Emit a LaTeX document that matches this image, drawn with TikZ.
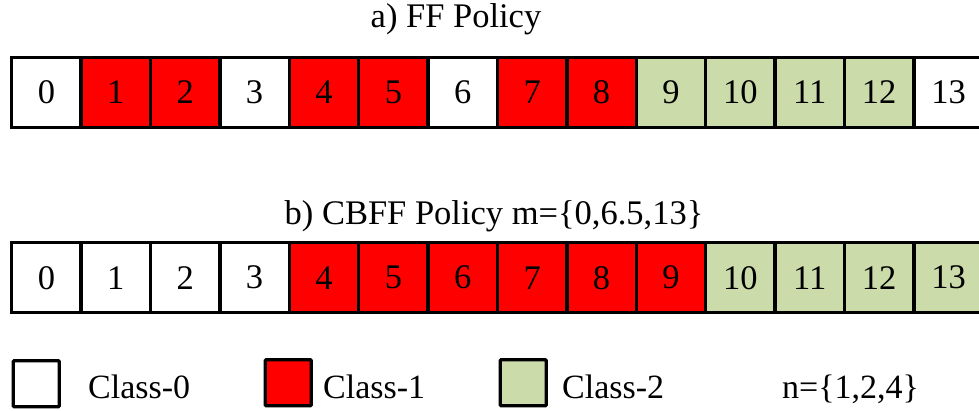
\documentclass[tikz,border=0pt]{standalone}
\usepackage{fontspec}
\setmainfont{Liberation Serif}
\definecolor{cred}{RGB}{255,0,0}
\definecolor{cgreen}{RGB}{204,219,170}
\begin{document}
\begin{tikzpicture}[x=1pt,y=-1pt,
  cell/.style={draw=black,line width=3.4pt,minimum width=69.4pt,minimum height=70pt,inner sep=0pt,anchor=north west,font=\fontsize{34.5}{40}\selectfont},
  lbox/.style={draw=black,line width=3.4pt,minimum size=46pt,inner sep=0pt,anchor=north west,rounded corners=1pt},
  ttl/.style={anchor=base,inner sep=0pt,font=\fontsize{34.5}{40}\selectfont},
  ltxt/.style={anchor=base west,inner sep=0pt,font=\fontsize{34}{40}\selectfont}]
\useasboundingbox (0,0) rectangle (979,410);
\fill[white] (0,0) rectangle (979,410);
\node[ttl] (ta) at (456,27.5) {a) FF Policy};
\node[ttl] (tb) at (494,224) {b) CBFF Policy m=\{0,6.5,13\}};
\foreach \i/\c in {0/white,1/cred,2/cred,3/white,4/cred,5/cred,6/white,7/cred,8/cred,9/cgreen,10/cgreen,11/cgreen,12/cgreen,13/white}
  \node[cell,fill=\c] (a\i) at ({10+69.4*\i},55.5) {\i};
\foreach \i/\c in {0/white,1/white,2/white,3/white,4/cred,5/cred,6/cred,7/cred,8/cred,9/cred,10/cgreen,11/cgreen,12/cgreen,13/cgreen}
  \node[cell,fill=\c] (b\i) at ({10+69.4*\i},241) {\i};
\node[lbox,fill=white] (l0) at (11.5,359) {};
\node[ltxt] (t0) at (88,398) {Class-0};
\node[lbox,fill=cred] (l1) at (263.5,358) {};
\node[ltxt] (t1) at (323,398) {Class-1};
\node[lbox,fill=cgreen] (l2) at (498.5,358) {};
\node[ltxt] (t2) at (562,398) {Class-2};
\node[ltxt] (tn) at (782,398) {n=\{1,2,4\}};
\end{tikzpicture}
\end{document}
